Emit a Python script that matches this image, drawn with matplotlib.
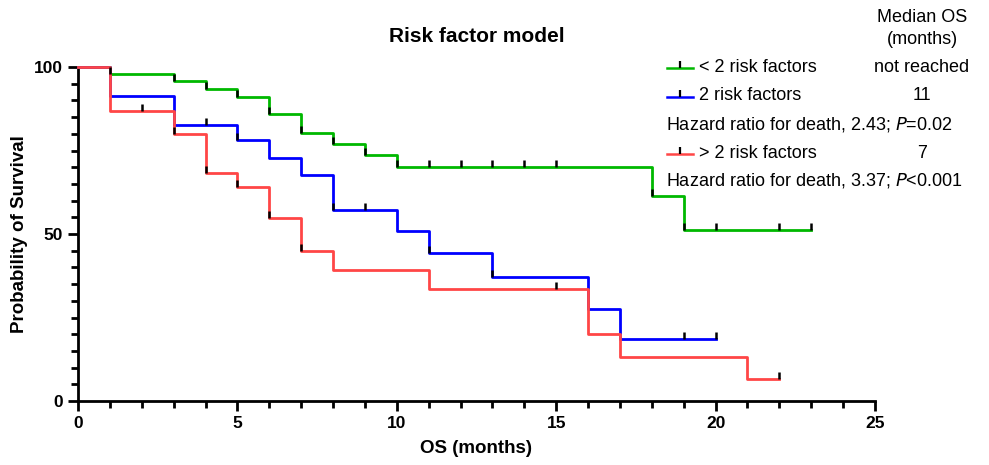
import matplotlib
matplotlib.use("Agg")
import matplotlib.pyplot as plt
from matplotlib.path import Path
from matplotlib.lines import Line2D
from matplotlib.ticker import MultipleLocator
import numpy as np

plt.rcParams['font.family'] = ['Liberation Sans', 'DejaVu Sans']

# ---- data ----
green_t = [0, 1, 3, 4, 5, 6, 7, 8, 9, 10, 18, 19, 23]
green_s = [100, 98.0, 95.9, 93.5, 91.0, 85.9, 80.3, 77.0, 73.7, 70.2, 61.4, 51.2, 51.2]
green_cens = [1, 3, 4, 5, 6, 7, 8, 9, 10, 11, 12, 13, 14, 15, 18, 19, 20, 22, 23]

blue_t = [0, 1, 3, 5, 6, 7, 8, 10, 11, 13, 16, 17, 20]
blue_s = [100, 91.4, 82.6, 78.1, 72.9, 67.6, 57.3, 50.8, 44.3, 37.0, 27.5, 18.5, 18.5]
blue_cens = [4, 5, 8, 9, 11, 13, 19, 20]

red_t = [0, 1, 3, 4, 5, 6, 7, 8, 11, 16, 17, 21, 22]
red_s = [100, 86.8, 79.9, 68.3, 64.2, 54.9, 44.9, 39.1, 33.5, 20.0, 13.3, 6.5, 6.5]
red_cens = [2, 3, 4, 5, 6, 7, 15, 22]

labels = ['< 2 risk factors', '2 risk factors', '> 2 risk factors']
medians = ['not reached', '11', '7']
colors = ['#00B800', '#0000FF', '#FF4646']

W, H = 989, 465
fig = plt.figure(figsize=(W / 100, H / 100), dpi=100)
ax = fig.add_axes([78 / W, 1 - 401 / H, (875 - 78) / W, (401 - 67) / H])

up_tick = Path([(0, 0), (0, 1)], [Path.MOVETO, Path.LINETO])


def level_at(times, surv, t):
    idx = np.searchsorted(times, t, side='right') - 1
    return surv[idx]


series = [(green_t, green_s, green_cens), (blue_t, blue_s, blue_cens), (red_t, red_s, red_cens)]
for (t, s, c), col in zip(series, colors):
    ax.step(t, s, where='post', color=col, lw=2.0, clip_on=False, zorder=3)
for (t, s, c), col in zip(series, colors):
    cy = [level_at(t, s, ct) for ct in c]
    ax.plot(c, cy, ls='none', marker=up_tick, ms=10, mew=1.8, mec='black', clip_on=False, zorder=4)

ax.set_xlim(0, 25)
ax.set_ylim(0, 100)
for sp in ['top', 'right']:
    ax.spines[sp].set_visible(False)
for sp in ['left', 'bottom']:
    ax.spines[sp].set_linewidth(2.0)
ax.xaxis.set_major_locator(MultipleLocator(5))
ax.xaxis.set_minor_locator(MultipleLocator(1))
ax.yaxis.set_major_locator(MultipleLocator(50))
ax.yaxis.set_minor_locator(MultipleLocator(5))
ax.tick_params(which='major', length=7, width=2.0, labelsize=12.5, pad=4)
ax.tick_params(which='minor', length=5, width=2.0)
for lab in ax.get_xticklabels() + ax.get_yticklabels():
    lab.set_fontweight('bold')

ax.set_xlabel('OS (months)', fontsize=13.5, fontweight='bold', labelpad=6)
ax.set_ylabel('Probability of Survival', fontsize=13.5, fontweight='bold', labelpad=4)
ax.set_title('Risk factor model', fontsize=15, fontweight='bold', pad=18)


def fx(px):
    return px / W


def fy(py):
    return 1 - py / H


fs = 13
# legend & median column
fig.text(fx(922), fy(18), 'Median OS', ha='center', va='center', fontsize=fs)
fig.text(fx(922), fy(40), '(months)', ha='center', va='center', fontsize=fs)
rows_y = [67, 96, 153]
for lab, med, col, yy in zip(labels, medians, colors, rows_y):
    ln = Line2D([fx(667), fx(680), fx(693)], [fy(yy + 1)] * 3, transform=fig.transFigure,
                color=col, lw=1.8, marker=up_tick, markevery=[1], ms=10, mew=1.6, mec='black')
    fig.add_artist(ln)
    fig.text(fx(699), fy(yy), lab, ha='left', va='center', fontsize=fs)
    fig.text(fx(922), fy(yy), med, ha='center', va='center', fontsize=fs)

fig.text(fx(666), fy(124), 'Hazard ratio for death, 2.43; $\\it{P}$=0.02', ha='left', va='center', fontsize=fs)
fig.text(fx(666), fy(181), 'Hazard ratio for death, 3.37; $\\it{P}$<0.001', ha='left', va='center', fontsize=fs)

fig.savefig('out.png', dpi=100)
